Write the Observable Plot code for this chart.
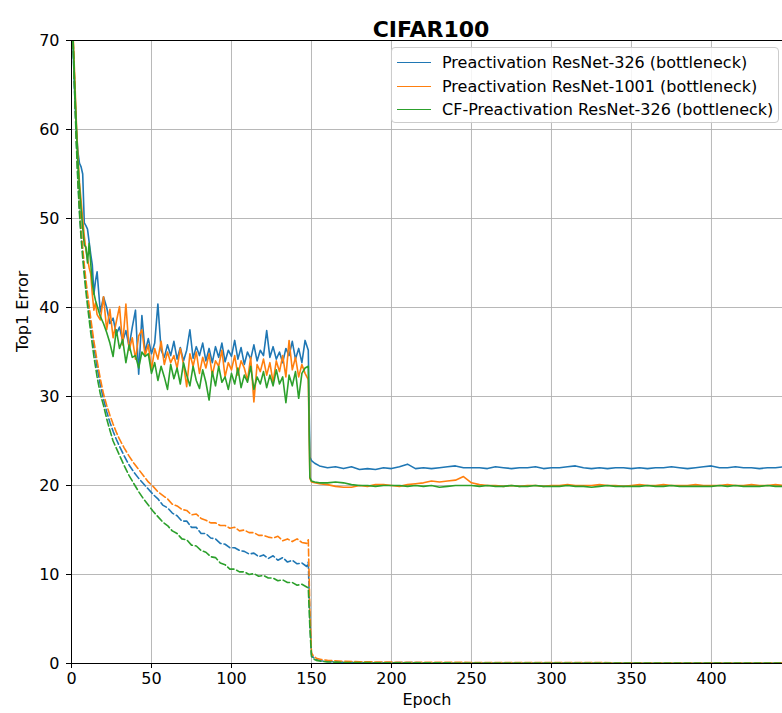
<!DOCTYPE html>
<html>
<head>
<meta charset="utf-8">
<script src="https://cdn.jsdelivr.net/npm/d3@7"></script>
<script src="https://cdn.jsdelivr.net/npm/@observablehq/plot@0.6"></script>
<style>
  body { margin: 0; background: #fff; }
  #wrap { position: relative; width: 782px; height: 713px; overflow: hidden; }
  .legend { position: absolute; left: 391px; top: 47px; width: 388px; height: 76px;
    box-sizing: border-box; border: 1px solid #cccccc; border-radius: 4px;
    background: rgba(255,255,255,0.85); font-family: "DejaVu Sans", sans-serif; font-size: 16px; color: #000; }
  .legend .row { position: absolute; left: 0; height: 20px; line-height: 20px; white-space: nowrap; }
  .legend .swatch { position: absolute; left: 5px; top: 9px; width: 34px; height: 0; border-top: 1.6px solid; }
  .legend .lab { position: absolute; left: 50px; top: 0; }
</style>
</head>
<body>
<div id="wrap"></div>
<script>
// ---- data ----
const seriesNames = [
  "Preactivation ResNet-326 (bottleneck)",
  "Preactivation ResNet-1001 (bottleneck)",
  "CF-Preactivation ResNet-326 (bottleneck)"
];
const seriesColors = ["#1f77b4", "#ff7f0e", "#2ca02c"];
const xTicks = [0, 50, 100, 150, 200, 250, 300, 350, 400];
const yTicks = [0, 10, 20, 30, 40, 50, 60, 70];

// test error (solid lines)
const testEpochs = [
  0,1,2,3,4,5,6,7,8,9,
  10,11,12,13,14,15,16,18,20,22,
  24,26,28,30,32,34,36,38,40,42,
  44,46,48,50,52,54,56,58,60,62,
  64,66,68,70,72,74,76,78,80,82,
  84,86,88,90,92,94,96,98,100,102,
  104,106,108,110,112,114,116,118,120,122,
  124,126,128,130,132,134,136,138,140,142,
  144,146,148,
  149,150,152,155,160,165,170,175,180,185,
  190,195,200,205,210,215,220,225,230,235,
  240,245,250,255,260,265,270,275,280,285,
  290,295,300,305,310,315,320,325,330,335,
  340,345,350,355,360,365,370,375,380,385,
  390,395,400,405,410,415,420,425,430,435,
  440,445,450
];
const testBlue = [
  78,69,64,60,57.5,56.2,55.8,55,49.5,49.2,
  48.8,47.4,46,44.8,41.5,43,44,39.5,41.2,40,
  38.2,38.8,37,37.8,36.2,37.4,35.6,37.8,39.7,32.5,
  39.1,35,36.5,34.8,36,40.4,35.2,34.4,35.8,34.6,
  36.2,34.2,35.5,34,35.2,37.5,34.3,35.6,34.6,36,
  34,35.4,33.8,35.6,34.4,36,33.9,35.2,34.5,36.3,
  34.2,35.5,33.6,35,34.2,35.8,34,35.2,34.6,37.4,
  34.4,35.6,34.2,35,33.8,35.4,34.6,36.2,34.2,35.4,
  33.8,36.3,35.2,
  23.2,22.8,22.5,22.2,22.0,22.1,21.9,22.1,21.8,21.9,
  21.8,22.0,21.9,22.1,22.4,21.9,22.0,21.9,22.0,22.1,
  22.2,22.0,22.0,22.0,21.9,22.1,22.0,21.9,22.0,22.0,
  22.1,21.9,22.0,22.0,22.1,22.2,22.0,21.9,22.0,21.9,
  22.0,22.0,21.9,22.0,21.9,22.0,22.0,22.1,22.0,21.9,
  22.0,22.1,22.2,22.0,22.0,22.1,22.0,22.0,21.9,22.0,
  22.0,22.1,22.0
];
const testOrange = [
  77,70.5,66,61,57,54,52,50,48,46.5,
  45.5,44.5,43.8,41.5,39.7,40.5,39.2,38.6,41.2,37.5,
  39.8,36.6,38.4,40.1,35.8,40.4,35.2,36.6,34.2,36.8,
  37.5,34.6,35.8,33,35.4,34.2,36.2,33.6,35,33.8,
  34.6,33.2,35.4,33.6,31.1,34.8,33.4,35,32.6,34.4,
  33.2,34.8,32.4,34,33.4,35.2,32.2,33.8,33,34.6,
  32.4,34,33.2,31.8,34.4,29.4,33.6,32.8,34.2,32.4,
  33.8,31.6,34,32.8,34.6,32.2,36.3,33,34.4,32.2,
  33.6,32.6,31.9,
  20.8,20.4,20.3,20.2,20.1,19.9,19.8,19.8,20.0,19.9,
  20.1,20.1,20.0,19.9,20.1,20.2,20.3,20.5,20.4,20.5,
  20.6,21.0,20.3,20.1,20.0,20.0,19.9,20.0,19.9,20.0,
  20.0,19.9,20.0,20.0,20.1,20.0,20.0,20.0,20.1,20.0,
  20.0,19.9,20.0,20.1,20.0,20.0,20.1,20.0,20.0,20.0,
  20.1,20.0,20.0,20.0,20.1,20.0,20.0,20.1,20.0,20.0,
  20.1,20.0,20.0
];
const testGreen = [
  76,70,65,60.5,56.5,53.5,51,49,47,46.8,
  45,47.2,45,42.7,41.6,40.8,40.2,39,38.2,37.2,
  36,34.5,37.5,35.4,36.4,33.8,35.8,34.4,34.6,33.2,
  35,34.5,34.8,32.6,33.8,31.8,33.4,32.2,30.8,33.6,
  32,33.2,31.4,33.8,32.4,31.2,33.4,31.8,30.9,33,
  31.6,29.6,32.8,31.2,33.4,31.6,32.2,30.8,32.6,31.4,
  33.2,31,32.4,31.6,33.4,30.8,32.2,31.4,32.8,31,
  32.4,31.2,33,31.4,32.2,29.3,32.4,31.2,32.8,29.8,
  32.6,33.2,33.4,
  20.9,20.5,20.4,20.3,20.3,20.4,20.3,20.1,20.0,20.0,
  19.9,20.0,20.0,20.0,19.9,20.0,19.9,20.0,19.8,19.9,
  20.0,20.0,20.0,19.9,20.0,19.9,19.9,20.0,19.9,19.9,
  20.0,19.9,19.9,19.9,20.0,19.9,19.9,19.8,19.9,20.0,
  19.9,19.9,19.9,19.9,20.0,19.9,19.9,20.0,19.9,19.9,
  19.9,19.9,19.9,20.0,19.9,20.0,19.9,19.9,19.9,20.0,
  19.9,19.9,19.9
];

// training error (dashed lines)
const trainEpochs = [
  0,1,2,3,4,5,6,7,8,9,
  10,12,14,16,18,20,22,24,26,28,
  30,33,36,39,42,45,48,51,54,57,
  60,63,66,69,72,75,78,81,84,87,
  90,93,96,99,102,105,108,111,114,117,
  120,123,126,129,132,135,138,141,144,147,
  148,149,150,151,153,156,160,170,180,200,
  225,250,275,300,350,400,450
];
const trainBlue = [
  80,70,64.5,59,54.5,51,48.3,46.2,44.2,42.5,
  41,38.2,35.6,33.3,31.3,29.7,28.3,27.1,26.1,25.2,
  24.4,23.3,22.3,21.5,20.8,20.2,19.6,19.0,18.5,17.8,
  17.5,16.9,16.6,16.0,16.0,15.3,15.3,14.6,14.6,14.1,
  14.0,13.5,13.4,13.0,13.0,12.7,12.6,12.3,12.4,12.0,
  12.2,11.8,12.1,11.6,11.9,11.4,11.6,11.2,11.3,10.9,
  11.4,5,1.0,0.7,0.45,0.3,0.22,0.15,0.12,0.1,
  0.09,0.08,0.07,0.07,0.06,0.06,0.05
];
const trainOrange = [
  80,70.5,65,59.5,55,51.5,48.8,46.7,44.8,43.1,
  41.6,38.8,36.2,34,32,30.3,29.0,27.9,26.9,26.0,
  25.2,24.2,23.3,22.5,21.8,21.1,20.4,19.9,19.3,18.9,
  18.5,17.9,17.7,17.3,17.2,16.7,16.8,16.3,16.1,15.8,
  15.8,15.5,15.5,15.2,15.3,14.9,15.0,14.7,14.7,14.4,
  14.4,14.2,14.1,14.3,13.8,14.0,13.7,14.0,13.6,13.5,
  13.9,6,1.2,0.9,0.6,0.45,0.35,0.25,0.2,0.15,
  0.13,0.12,0.11,0.1,0.09,0.08,0.08
];
const trainGreen = [
  80,69.5,64,58.5,54,50.5,47.8,45.6,43.6,41.8,
  40.2,37.2,34.5,32.2,30.3,29.0,27.5,26.2,25.0,24.2,
  23.4,22.2,21.1,20.2,19.3,18.5,17.8,17.1,16.5,15.9,
  15.5,14.9,14.6,14.0,13.9,13.3,13.2,12.7,12.5,12.0,
  11.9,11.3,11.1,10.6,10.6,10.3,10.3,10.0,10.1,9.8,
  9.9,9.6,9.6,9.3,9.4,9.1,9.1,8.8,8.9,8.6,
  8.5,4,0.8,0.55,0.35,0.25,0.18,0.12,0.1,0.08,
  0.07,0.06,0.05,0.05,0.05,0.04,0.04
];

// ---- build tables ----
const testSeries = [testBlue, testOrange, testGreen];
const trainSeries = [trainBlue, trainOrange, trainGreen];
const toRows = (epochs, values) => epochs.map((e, i) => ({epoch: e, err: values[i]}));

const FONT = '"DejaVu Sans", sans-serif';
const grid = {stroke: "#b0b0b0", strokeOpacity: 1, strokeWidth: 0.9};

const lineMarks = [];
for (let s = 0; s < 3; s++) {
  lineMarks.push(Plot.line(toRows(testEpochs, testSeries[s]), {
    x: "epoch", y: "err", stroke: seriesColors[s], strokeWidth: 1.6, clip: true
  }));
  lineMarks.push(Plot.line(toRows(trainEpochs, trainSeries[s]), {
    x: "epoch", y: "err", stroke: seriesColors[s], strokeWidth: 1.6, strokeDasharray: "7,3", clip: true
  }));
}

const chart = Plot.plot({
  width: 782,
  height: 713,
  marginLeft: 71,
  marginRight: 0,
  marginTop: 40,
  marginBottom: 50,
  style: {fontFamily: FONT, fontSize: "16px", background: "white", color: "black"},
  x: {domain: [0, 444.4], label: null},
  y: {domain: [0, 70], label: null},
  marks: [
    Plot.gridX(xTicks, grid),
    Plot.gridY(yTicks, grid),
    ...lineMarks,
    Plot.ruleX([0], {stroke: "black", strokeWidth: 1}),
    Plot.ruleY([0], {stroke: "black", strokeWidth: 1}),
    Plot.ruleY([70], {stroke: "black", strokeWidth: 1}),
    Plot.axisX(xTicks, {tickSize: 5, tickPadding: 4, fontSize: 16, label: null, stroke: "black"}),
    Plot.axisY(yTicks, {tickSize: 5, tickPadding: 7, fontSize: 16, label: null, stroke: "black"}),
    Plot.text(["Epoch"], {text: d => d, frameAnchor: "bottom", dy: 41, fontSize: 16}),
    Plot.text(["Top1 Error"], {text: d => d, frameAnchor: "left", dx: -49, rotate: -90, fontSize: 16}),
    Plot.text(["CIFAR100"], {text: d => d, frameAnchor: "top", dx: 4, dy: -19, fontSize: 22, fontWeight: "bold"})
  ]
});

const wrap = document.getElementById("wrap");
wrap.appendChild(chart);

// legend
const legend = document.createElement("div");
legend.className = "legend";
seriesNames.forEach((name, i) => {
  const row = document.createElement("div");
  row.className = "row";
  row.style.top = (5 + i * 23.5) + "px";
  const sw = document.createElement("div");
  sw.className = "swatch";
  sw.style.borderTopColor = seriesColors[i];
  const lab = document.createElement("span");
  lab.className = "lab";
  lab.textContent = name;
  row.appendChild(sw);
  row.appendChild(lab);
  legend.appendChild(row);
});
wrap.appendChild(legend);
</script>
</body>
</html>
